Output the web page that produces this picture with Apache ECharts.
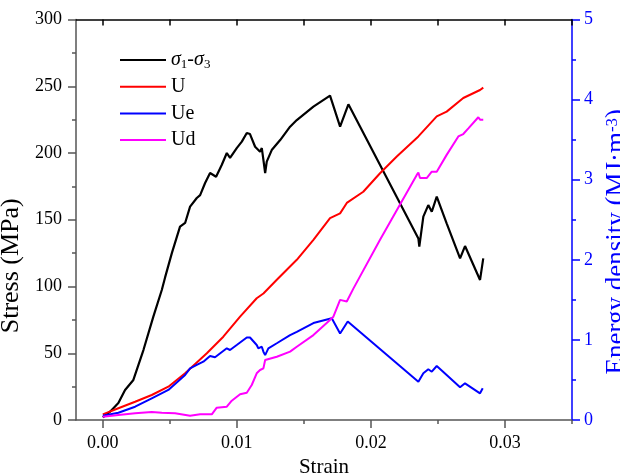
<!DOCTYPE html>
<html>
<head>
<meta charset="utf-8">
<script src="https://cdn.jsdelivr.net/npm/echarts@6/dist/echarts.min.js"></script>
<style>
  html, body { margin: 0; padding: 0; background: #fff; }
  #chart { width: 620px; height: 475px; }
</style>
</head>
<body>
<div id="chart"></div>
<script>
// Deviatoric stress (σ1-σ3) vs strain, MPa
const stressStrain = [0, 0.00054, 0.00116, 0.00166, 0.00228, 0.00303, 0.00377, 0.0044, 0.00465, 0.00515,
  0.00576, 0.00614, 0.00651, 0.00701, 0.00726, 0.00763, 0.008, 0.00845, 0.00887, 0.00925,
  0.00949, 0.00999, 0.01037, 0.01074, 0.01098, 0.01136, 0.01148, 0.01173, 0.01186, 0.01198,
  0.01211, 0.01223, 0.0126, 0.01323, 0.01397, 0.01447, 0.01571, 0.01695, 0.01708, 0.0177,
  0.01832, 0.02354, 0.02361, 0.02391, 0.02428, 0.02454, 0.02491, 0.02565, 0.02665, 0.02702,
  0.02814, 0.02838];
const stressValues = [2, 6.2, 12.7, 22.5, 30, 52.4, 77.4, 97.4, 107, 125,
  144.8, 147.6, 159.8, 166.3, 168.5, 177.5, 185, 182.2, 191, 200,
  196.3, 203.7, 208.5, 215, 214.2, 204.7, 204.7, 201, 203.7, 194.8,
  185, 193.5, 202.2, 209.7, 219.7, 224.7, 234.7, 243, 243, 219.7,
  236.5, 136, 129.8, 152.3, 161, 156, 167.3, 147.3, 121.1, 130.3,
  104.9, 121.1];

// Total input energy density U, MJ/m3
const uStrain = [0, 0.00116, 0.00241, 0.00365, 0.00489, 0.00614, 0.00776, 0.00899, 0.01024, 0.01148,
  0.01198, 0.01298, 0.01447, 0.01571, 0.01695, 0.0177, 0.0182, 0.01943, 0.02068, 0.02193,
  0.02354, 0.02491, 0.02565, 0.02689, 0.02814, 0.02838];
const uValues = [0.07, 0.146, 0.228, 0.312, 0.416, 0.583, 0.833, 1.04, 1.29, 1.52,
  1.58, 1.75, 2.0, 2.25, 2.52, 2.58, 2.71, 2.85, 3.08, 3.29,
  3.54, 3.79, 3.85, 4.02, 4.12, 4.15];

// Elastic strain energy density Ue, MJ/m3
const ueStrain = [0, 0.00116, 0.00241, 0.00365, 0.00489, 0.00614, 0.00651, 0.00701, 0.0075, 0.008,
  0.00837, 0.00925, 0.00949, 0.00999, 0.01074, 0.01098, 0.01148, 0.0116, 0.01186, 0.01198,
  0.01211, 0.01235, 0.01298, 0.01397, 0.01447, 0.01571, 0.01708, 0.0177, 0.01827, 0.02354,
  0.02366, 0.02391, 0.02428, 0.02454, 0.02491, 0.02565, 0.02665, 0.02702, 0.02814, 0.02834];
const ueValues = [0.054, 0.091, 0.166, 0.271, 0.375, 0.562, 0.645, 0.687, 0.728, 0.8,
  0.783, 0.895, 0.874, 0.936, 1.03, 1.03, 0.936, 0.895, 0.915, 0.853,
  0.81, 0.895, 0.958, 1.06, 1.10, 1.21, 1.27, 1.08, 1.23, 0.478,
  0.458, 0.583, 0.633, 0.603, 0.674, 0.562, 0.408, 0.458, 0.333, 0.396];

// Dissipated energy density Ud, MJ/m3
const udStrain = [0, 0.00116, 0.00241, 0.00365, 0.0044, 0.00539, 0.00651, 0.00726, 0.00813, 0.0085,
  0.00925, 0.00962, 0.01024, 0.01074, 0.01111, 0.01148, 0.01173, 0.01198, 0.01211, 0.01223,
  0.01298, 0.01397, 0.01447, 0.01571, 0.0167, 0.0172, 0.0177, 0.0182, 0.01869, 0.02068,
  0.02342, 0.02354, 0.02366, 0.02416, 0.02454, 0.02491, 0.02565, 0.02652, 0.02689, 0.02727,
  0.02801, 0.02814, 0.02838];
const udValues = [0.04, 0.062, 0.084, 0.1, 0.091, 0.084, 0.054, 0.071, 0.071, 0.154,
  0.166, 0.241, 0.321, 0.341, 0.437, 0.583, 0.624, 0.645, 0.749, 0.749,
  0.79, 0.853, 0.915, 1.06, 1.21, 1.29, 1.50, 1.48, 1.64, 2.25,
  3.06, 3.09, 3.02, 3.02, 3.10, 3.10, 3.31, 3.54, 3.57, 3.64,
  3.78, 3.75, 3.75];

const xMajorTicks = [0, 0.01, 0.02, 0.03];
const xMinorTicks = [0.005, 0.015, 0.025, 0.035];
const xTopTicks = [0, 0.005, 0.01, 0.015, 0.02, 0.025, 0.03, 0.035];

const FONT = '"Liberation Serif", "Times New Roman", serif';
const AXIS_GRAY = '#555';
const BLUE = '#0000ff';

function pairs(xs, ys) { return xs.map((x, i) => [x, ys[i]]); }

const chart = echarts.init(document.getElementById('chart'), null, { renderer: 'canvas' });

const option = {
  animation: false,
  backgroundColor: '#fff',
  textStyle: { fontFamily: FONT },
  grid: { left: 76, right: 48, top: 19.5, bottom: 55, containLabel: false, outerBoundsMode: 'none' },
  legend: {
    orient: 'vertical',
    left: 115,
    top: 44,
    icon: 'rect',
    itemWidth: 46,
    itemHeight: 2,
    itemGap: 4.7,
    selectedMode: false,
    textStyle: {
      fontFamily: FONT, fontSize: 20, color: '#000', lineHeight: 22,
      rich: {
        i: { fontFamily: FONT, fontSize: 20, fontStyle: 'italic', lineHeight: 22 },
        s: { fontFamily: FONT, fontSize: 13, lineHeight: 13, verticalAlign: 'bottom' },
        n: { fontFamily: FONT, fontSize: 20, lineHeight: 22 }
      }
    },
    formatter: function (name) {
      return name === 'σ1-σ3' ? '{i|σ}{s|1}{n|-}{i|σ}{s|3}' : name;
    },
    data: ['σ1-σ3', 'U', 'Ue', 'Ud']
  },
  xAxis: [
    {
      type: 'value', position: 'bottom', min: -0.002, max: 0.035,
      name: 'Strain', nameLocation: 'middle', nameGap: 31,
      nameTextStyle: { fontFamily: FONT, fontSize: 21, color: '#000' },
      axisLine: { show: true, onZero: false, lineStyle: { color: AXIS_GRAY, width: 1.5 } },
      axisTick: { show: true, inside: false, length: 8, customValues: xMajorTicks, lineStyle: { color: AXIS_GRAY, width: 1.5 } },
      axisLabel: { show: true, margin: 14, customValues: xMajorTicks, fontFamily: FONT, fontSize: 18, color: '#000',
        formatter: v => v.toFixed(2) },
      splitLine: { show: false }
    },
    {
      type: 'value', position: 'bottom', min: -0.002, max: 0.035,
      axisLine: { show: false, onZero: false },
      axisTick: { show: true, inside: false, length: 4, customValues: xMinorTicks, lineStyle: { color: AXIS_GRAY, width: 1.5 } },
      axisLabel: { show: false },
      splitLine: { show: false }
    },
    {
      type: 'value', position: 'top', min: -0.002, max: 0.035,
      axisLine: { show: true, onZero: false, lineStyle: { color: '#000', width: 1.5 } },
      axisTick: { show: true, inside: true, length: 6, customValues: xTopTicks, lineStyle: { color: '#000', width: 1.5 } },
      axisLabel: { show: false },
      splitLine: { show: false }
    }
  ],
  yAxis: [
    {
      type: 'value', position: 'left', min: 0, max: 300, interval: 50,
      name: 'Stress (MPa)', nameLocation: 'middle', nameGap: 42, nameRotate: 90,
      nameTextStyle: { fontFamily: FONT, fontSize: 26, lineHeight: 26, color: '#000', padding: [0, 92, 0, 0] },
      axisLine: { show: true, onZero: false, lineStyle: { color: AXIS_GRAY, width: 1.5 } },
      axisTick: { show: true, inside: false, length: 8, lineStyle: { color: AXIS_GRAY, width: 1.5 } },
      minorTick: { show: true, splitNumber: 2, length: 4, lineStyle: { color: AXIS_GRAY, width: 1.5 } },
      axisLabel: { margin: 14, fontFamily: FONT, fontSize: 18, color: '#000' },
      splitLine: { show: false }
    },
    {
      type: 'value', position: 'right', min: 0, max: 5, interval: 1,
      name: '{a|Energy density (MJ·m}{p|-3}{a|)}', nameLocation: 'middle', nameGap: 29, nameRotate: 90,
      nameTextStyle: {
        fontFamily: FONT, fontSize: 27, color: BLUE, padding: [0, 44, 0, 0],
        rich: {
          a: { fontFamily: FONT, fontSize: 27, color: BLUE, lineHeight: 27 },
          p: { fontFamily: FONT, fontSize: 17, color: BLUE, lineHeight: 17, verticalAlign: 'top' }
        }
      },
      axisLine: { show: true, onZero: false, lineStyle: { color: BLUE, width: 1.5 } },
      axisTick: { show: true, inside: false, length: 8, lineStyle: { color: BLUE, width: 1.5 } },
      minorTick: { show: true, splitNumber: 2, length: 4, lineStyle: { color: BLUE, width: 1.5 } },
      axisLabel: { margin: 12, fontFamily: FONT, fontSize: 18, color: BLUE },
      splitLine: { show: false }
    }
  ],
  series: [
    {
      name: 'σ1-σ3', type: 'line', xAxisIndex: 0, yAxisIndex: 0,
      symbol: 'none', smooth: false,
      lineStyle: { color: '#000', width: 2.2 }, itemStyle: { color: '#000' },
      data: pairs(stressStrain, stressValues)
    },
    {
      name: 'U', type: 'line', xAxisIndex: 0, yAxisIndex: 1,
      symbol: 'none',
      lineStyle: { color: '#ff0000', width: 2 }, itemStyle: { color: '#ff0000' },
      data: pairs(uStrain, uValues)
    },
    {
      name: 'Ue', type: 'line', xAxisIndex: 0, yAxisIndex: 1,
      symbol: 'none',
      lineStyle: { color: BLUE, width: 2 }, itemStyle: { color: BLUE },
      data: pairs(ueStrain, ueValues)
    },
    {
      name: 'Ud', type: 'line', xAxisIndex: 0, yAxisIndex: 1,
      symbol: 'none',
      lineStyle: { color: '#ff00ff', width: 2 }, itemStyle: { color: '#ff00ff' },
      data: pairs(udStrain, udValues)
    }
  ]
};

chart.setOption(option);
</script>
</body>
</html>
